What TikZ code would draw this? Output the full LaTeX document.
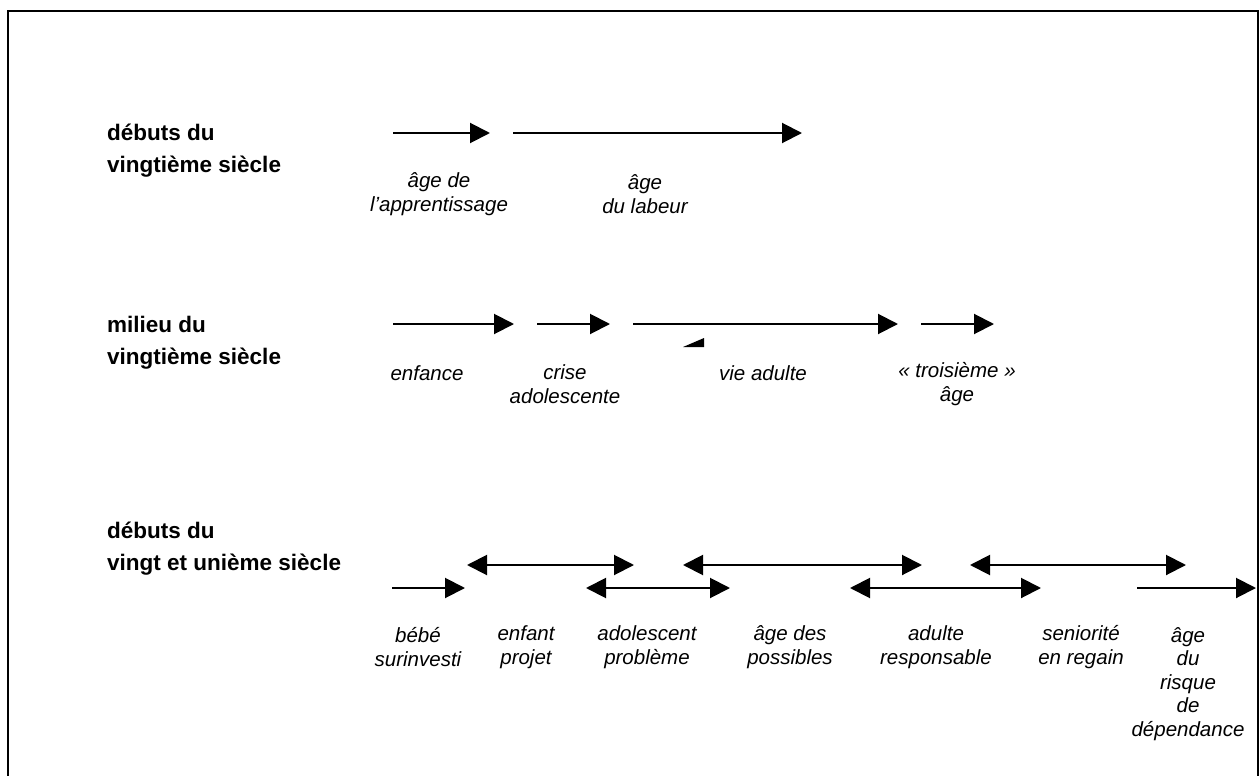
\documentclass[tikz,border=0pt]{standalone}
\usepackage{fontspec}
\setmainfont{Liberation Sans}
\usetikzlibrary{arrows.meta}
\begin{document}
\begin{tikzpicture}[x=1pt,y=-1pt,
  seg/.style={line width=2pt,-{Triangle[length=20pt,width=20pt]}},
  dseg/.style={line width=2pt,{Triangle[length=20pt,width=20pt]}-{Triangle[length=20pt,width=20pt]}},
  hdr/.style={font=\fontsize{22.5}{32}\selectfont\bfseries,align=left,anchor=west,inner sep=0pt},
  lbl/.style={font=\fontsize{20.5}{23.5}\selectfont\itshape,align=center,inner sep=0pt}]
\useasboundingbox (0,0) rectangle (1259,776);
\draw[line width=2pt] (8,778) -- (8,11) -- (1258,11) -- (1258,778);

% headers
\node[hdr] (h1) at (107,151) {débuts du\\vingtième siècle};
\node[hdr] (h2) at (107,343) {milieu du\\vingtième siècle};
\node[hdr] (h3) at (107,549) {débuts du\\vingt et unième siècle};

% row 1
\coordinate (a1s) at (393,133); \coordinate (a1e) at (490,133);
\coordinate (a2s) at (513,133); \coordinate (a2e) at (802,133);
\draw[seg] (a1s) -- (a1e);
\draw[seg] (a2s) -- (a2e);
\node[lbl] (l11) at (439,194) {âge de\\l’apprentissage};
\node[lbl] (l12) at (645,194) {âge\\du labeur};

% row 2
\coordinate (b1s) at (393,324); \coordinate (b1e) at (514,324);
\coordinate (b2s) at (537,324); \coordinate (b2e) at (610,324);
\coordinate (b3s) at (633,324); \coordinate (b3e) at (898,324);
\coordinate (b4s) at (921,324); \coordinate (b4e) at (994,324);
\draw[seg] (b1s) -- (b1e);
\draw[seg] (b2s) -- (b2e);
\draw[seg] (b3s) -- (b3e);
\draw[seg] (b4s) -- (b4e);
\fill (683,347) -- (704,347) -- (704,338) -- cycle;
\node[lbl] (l21) at (427,373) {enfance};
\node[lbl] (l22) at (565,384) {crise\\adolescente};
\node[lbl] (l23) at (763,373) {vie adulte};
\node[lbl] (l24) at (957,384) {« troisième »\\âge};

% row 3
\coordinate (c1s) at (467,565); \coordinate (c1e) at (634,565);
\coordinate (c2s) at (683,565); \coordinate (c2e) at (922,565);
\coordinate (c3s) at (970,565); \coordinate (c3e) at (1186,565);
\coordinate (d0s) at (392,588); \coordinate (d0e) at (465,588);
\coordinate (d1s) at (586,588); \coordinate (d1e) at (730,588);
\coordinate (d2s) at (850,588); \coordinate (d2e) at (1041,588);
\coordinate (d3s) at (1137,588); \coordinate (d3e) at (1256,588);
\draw[dseg] (c1s) -- (c1e);
\draw[dseg] (c2s) -- (c2e);
\draw[dseg] (c3s) -- (c3e);
\draw[seg] (d0s) -- (d0e);
\draw[dseg] (d1s) -- (d1e);
\draw[dseg] (d2s) -- (d2e);
\draw[seg] (d3s) -- (d3e);
\node[lbl] (l31) at (418,647) {bébé\\surinvesti};
\node[lbl] (l32) at (526,647) {enfant\\projet};
\node[lbl] (l33) at (647,647) {adolescent\\problème};
\node[lbl] (l34) at (790,647) {âge des\\possibles};
\node[lbl] (l35) at (936,647) {adulte\\responsable};
\node[lbl] (l36) at (1081,647) {seniorité\\en regain};
\node[lbl] (l37) at (1188,684) {âge\\du\\risque\\de\\dépendance};
\end{tikzpicture}
\end{document}
